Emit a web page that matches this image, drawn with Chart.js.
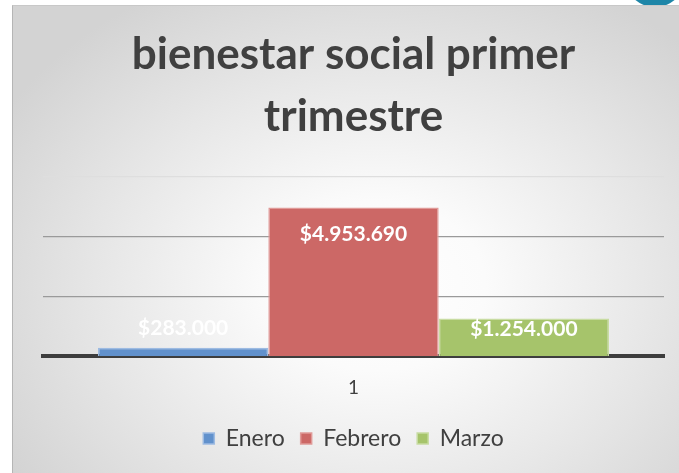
<!DOCTYPE html>
<html>
<head>
<meta charset="utf-8">
<script src="https://cdn.jsdelivr.net/npm/chart.js@4/dist/chart.umd.min.js"></script>
<style>
  html, body { margin: 0; padding: 0; background: #ffffff; overflow: hidden; }
  #wrap { position: relative; width: 679px; height: 473px; }
  #box {
    position: absolute; left: 12px; top: 5px; width: 700px; height: 500px;
    border-left: 1px solid #b5b5b5; border-top: 1px solid #c8c8c8;
    background: radial-gradient(ellipse 62% 68% at 52% 56%, #ffffff 0%, #fbfbfb 25%, #e6e6e6 65%, #d3d3d3 100%);
  }
  #dot {
    position: absolute; left: 624px; top: -55px; width: 62px; height: 62px;
    border-radius: 50%; background: #1e86a8;
  }
  canvas { position: absolute; left: 0; top: 0; }
</style>
</head>
<body>
<div id="wrap">
  <div id="dot"></div>
  <div id="box"></div>
  <canvas id="c" width="679" height="473"></canvas>
</div>
<script>
const categories = ['1'];
const seriesNames = ['Enero', 'Febrero', 'Marzo'];
const eneroValues = [283000];
const febreroValues = [4953690];
const marzoValues = [1254000];
const yTicks = [0, 2000000, 4000000, 6000000];
const titleLines = ['bienestar social primer', 'trimestre'];

const fill = ['#6191cc', '#cc6866', '#a6c46b'];
const edge = ['#9dbbe2', '#e09a98', '#c8dca2'];
const labelShift = [-19, 27, 11];

function fmt(v) {
  return '$' + String(v).replace(/\B(?=(\d{3})+(?!\d))/g, '.');
}

const labelPlugin = {
  id: 'barLabels',
  afterDatasetsDraw(chart) {
    const ctx = chart.ctx;
    ctx.save();
    ctx.font = 'bold 21px Lato';
    ctx.fillStyle = '#ffffff';
    ctx.textAlign = 'center';
    ctx.textBaseline = 'middle';
    chart.data.datasets.forEach((ds, di) => {
      const meta = chart.getDatasetMeta(di);
      meta.data.forEach((bar, i) => {
        ctx.fillText(fmt(ds.data[i]), bar.x, bar.y + labelShift[di]);
      });
    });
    ctx.restore();
  }
};

new Chart(document.getElementById('c'), {
  type: 'bar',
  data: {
    labels: categories,
    datasets: [
      { label: seriesNames[0], data: eneroValues, backgroundColor: fill[0], borderColor: edge[0], borderWidth: 1.5 },
      { label: seriesNames[1], data: febreroValues, backgroundColor: fill[1], borderColor: edge[1], borderWidth: 1.5 },
      { label: seriesNames[2], data: marzoValues, backgroundColor: fill[2], borderColor: edge[2], borderWidth: 1.5 }
    ]
  },
  options: {
    responsive: false,
    animation: false,
    events: [],
    categoryPercentage: 0.823,
    barPercentage: 1.0,
    layout: { padding: { left: 43, right: 15, top: 0, bottom: 13 } },
    scales: {
      x: {
        grid: { display: false },
        border: { display: true, color: '#3d3d3d', width: 4 },
        ticks: { color: '#404040', font: { family: 'Lato', size: 19 }, padding: 12 }
      },
      y: {
        min: 0, max: 6000000,
        afterBuildTicks(axis) { axis.ticks = yTicks.map(v => ({ value: v })); },
        ticks: { display: false },
        border: { display: false },
        grid: {
          drawTicks: false,
          lineWidth: (c) => (c.tick && c.tick.value === 0 ? 0 : 1.3),
          color: (c) => (c.tick && c.tick.value === 6000000 ? '#dedede' : '#9a9a9a')
        }
      }
    },
    plugins: {
      title: {
        display: true,
        text: titleLines,
        color: '#404040',
        font: { family: 'Lato', size: 44, weight: 'bold', lineHeight: 1.4 },
        padding: { top: 24, bottom: 29 }
      },
      legend: {
        position: 'bottom',
        labels: {
          color: '#404040',
          font: { family: 'Lato', size: 23 },
          boxWidth: 11, boxHeight: 11,
          padding: 16
        }
      },
      tooltip: { enabled: false }
    }
  },
  plugins: [labelPlugin]
});
</script>
</body>
</html>
